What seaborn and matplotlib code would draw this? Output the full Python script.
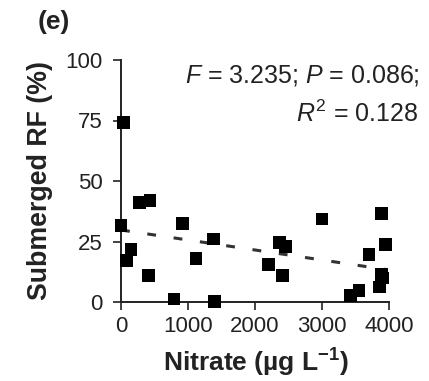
import matplotlib
matplotlib.use("Agg")
import matplotlib.pyplot as plt
import seaborn as sns
import pandas as pd

nitrate = [0, 35, 85, 150, 273, 432, 407, 790, 914, 1118, 1376, 1391,
           2196, 2360, 2455, 2410, 3001, 3424, 3553, 3702, 3886, 3950,
           3886, 3901, 3861]
submerged_rf = [31.5, 74.1, 17.2, 21.6, 41.1, 42.0, 10.9, 1.2, 32.6, 17.9,
                26.0, 0.3, 15.4, 24.6, 23.0, 10.9, 34.3, 2.6, 4.8, 19.5,
                36.5, 23.7, 11.3, 9.9, 6.2]
x_ticks = [0, 1000, 2000, 3000, 4000]
y_ticks = [0, 25, 50, 75, 100]

df = pd.DataFrame({"nitrate": nitrate, "rf": submerged_rf})

sns.set_theme(style="ticks")
plt.rcParams["font.family"] = ["Liberation Sans", "DejaVu Sans"]
plt.rcParams["mathtext.fontset"] = "custom"
plt.rcParams["mathtext.rm"] = "Liberation Sans"
plt.rcParams["mathtext.it"] = "Liberation Sans:italic"
plt.rcParams["mathtext.bf"] = "Liberation Sans:bold"

fig = plt.figure(figsize=(4.29, 3.81), dpi=100)
ax = fig.add_axes([121 / 429, 1 - 302 / 381, 268 / 429, 242 / 381])

sns.regplot(data=df, x="nitrate", y="rf", ax=ax, ci=None, marker="s",
            scatter_kws=dict(s=85, color="#000000", edgecolor="none",
                             alpha=1, clip_on=False, zorder=5),
            line_kws=dict(color="#333333", lw=2.2, dashes=(2.9, 5.8),
                          zorder=3))

ax.set_xlim(0, 4000)
ax.set_ylim(0, 100)
ax.set_xticks(x_ticks)
ax.set_yticks(y_ticks)
ax.tick_params(direction="out", length=6, width=1.2, labelsize=16,
               colors="#222222")
ax.tick_params(axis="y", pad=7)
ax.tick_params(axis="x", pad=4)
for s in ["top", "right"]:
    ax.spines[s].set_visible(False)
for s in ["left", "bottom"]:
    ax.spines[s].set_linewidth(1.4)
    ax.spines[s].set_color("#222222")

ax.set_xlabel("Nitrate (µg L$^{\\mathbf{-1}}$)", fontsize=19,
              fontweight="bold", color="#222222", va="center")
ax.xaxis.set_label_coords(0.504, -0.252)
ax.set_ylabel("Submerged RF (%)", fontsize=19.3, fontweight="bold",
              color="#222222", va="center")
ax.yaxis.set_label_coords(-0.302, 0.504)

fig.text(54 / 429, 1 - 22 / 381, "(e)", fontsize=19, fontweight="bold",
         ha="center", va="center", color="#222222")
fig.text(420 / 429, 1 - 76 / 381, r"$\it{F}$ = 3.235; $\it{P}$ = 0.086;",
         fontsize=18, ha="right", va="center", color="#222222")
fig.text(418 / 429, 1 - 114 / 381, r"$\it{R}^2$ = 0.128",
         fontsize=18, ha="right", va="center", color="#222222")

fig.savefig("out.png", dpi=100)
